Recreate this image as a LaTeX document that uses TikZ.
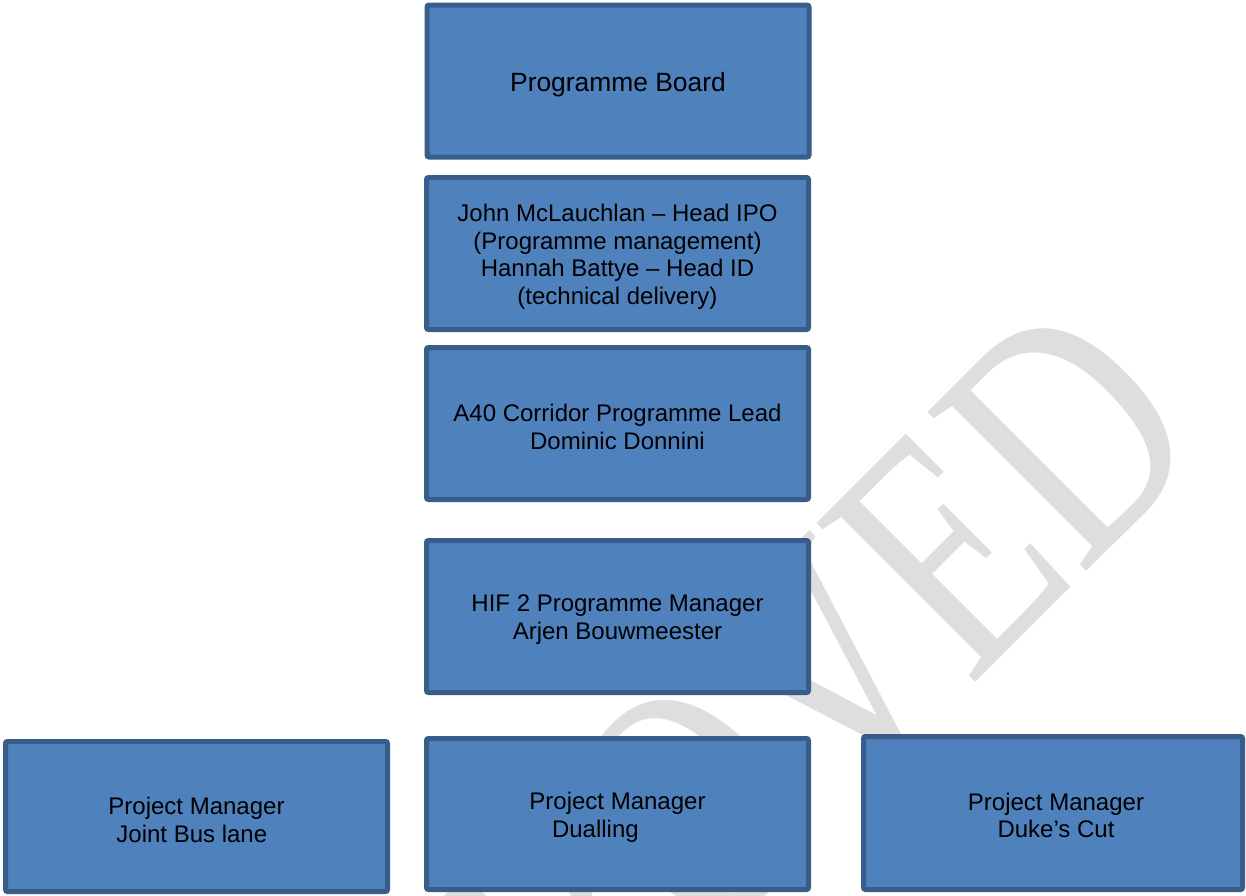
\documentclass[tikz,border=0pt]{standalone}
\usepackage{fontspec}
\setmainfont{Liberation Sans}
\newfontfamily\wmfont{Liberation Serif}
\usepackage{graphicx}
\definecolor{boxfill}{HTML}{4F81BD}
\definecolor{boxline}{HTML}{385D8A}
\definecolor{wmgray}{HTML}{DEDEDE}
\begin{document}
\begin{tikzpicture}[x=0.5pt,y=-0.5pt,
  orgbox/.style={draw=boxline, fill=boxfill, line width=2.5pt, rounded corners=1pt,
    inner sep=0pt, minimum width=191pt, minimum height=76pt},
  orgtext/.style={inner sep=0pt, align=center, yshift=-1.6pt,
    font=\fontsize{12}{13.8}\selectfont, text=black},
  watermark/.style={rotate=45, anchor=base east, inner sep=0pt, text=wmgray,
    font=\wmfont\fontsize{171.5}{171.5}\selectfont}
]
\useasboundingbox (0,0) rectangle (1246,895);
\clip (0,0) rectangle (1246,895);
\fill[white] (0,0) rectangle (1246,895);
\node[watermark] (wm) at (1213.5,444.5) {\scalebox{0.75}[1]{APPROVED}};

\node[orgbox] (pb) at (618,81) {};
\node[orgbox] (jm) at (617.5,253.5) {};
\node[orgbox] (a40) at (617.5,423.5) {};
\node[orgbox] (hif) at (617.5,616.5) {};
\node[orgbox, minimum height=75pt] (jbl) at (196.5,816.5) {};
\node[orgbox, minimum height=75.5pt] (du) at (617.5,814) {};
\node[orgbox, minimum width=189.5pt, minimum height=76.5pt] (dc) at (1053,813) {};

\node[orgtext, yshift=-0.4pt, font=\fontsize{13.2}{15}\selectfont] (pbt) at (pb.center) {Programme Board};
\node[orgtext] (jmt) at (jm.center) {John McLauchlan – Head IPO\\(Programme management)\\Hannah Battye – Head ID\\(technical delivery)};
\node[orgtext] (a40t) at (a40.center) {A40 Corridor Programme Lead\\Dominic Donnini};
\node[orgtext] (hift) at (hif.center) {HIF 2 Programme Manager\\Arjen Bouwmeester};
\node[orgtext, align=left] (jblt) at (jbl.center) {Project Manager\\\hspace*{4pt}Joint Bus lane};
\node[orgtext, align=left] (dut) at (du.center) {Project Manager\\\hspace*{11.3pt}Dualling};
\node[orgtext, xshift=1.5pt, yshift=0.4pt] (dct) at (dc.center) {Project Manager\\Duke’s Cut};
\end{tikzpicture}
\end{document}
